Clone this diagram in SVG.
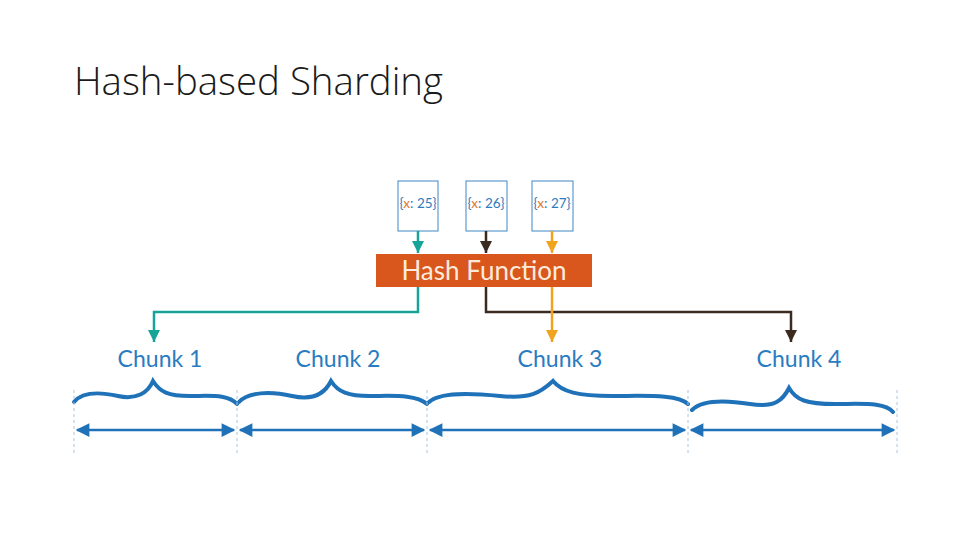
<svg xmlns="http://www.w3.org/2000/svg" width="960" height="540" viewBox="0 0 960 540">
<defs>
<style>
.title{font-family:"Open Sans","Liberation Sans",sans-serif;font-weight:300;font-size:38px;fill:#1a1a1a}
.key{font-family:Lato,"Liberation Sans",sans-serif;font-size:13.5px;fill:#2E7CC0}
.x{fill:#E0752B}
.kbox{fill:#fff;stroke:#3C86C6;stroke-width:1}
.chunk{font-family:Lato,"Liberation Sans",sans-serif;font-size:23px;fill:#2A7CC0;text-anchor:middle}
.hf{font-family:Lato,"Liberation Sans",sans-serif;font-size:26px;fill:#FCEBDD;text-anchor:middle}
.brace{fill:none;stroke:#1F72B8;stroke-width:4;stroke-linecap:round}
.dim{stroke:#1F72B8;stroke-width:2.5;fill:none}
.dash{stroke:#A9C6DF;stroke-width:1;stroke-dasharray:3 3}
.conn{fill:none;stroke-width:2.5}
</style>
<marker id="aTeal" viewBox="0 0 10 10" refX="10" refY="5" markerWidth="5" markerHeight="5.5" markerUnits="strokeWidth" orient="auto"><path d="M0,0L10,5L0,10z" fill="#17A397"/></marker>
<marker id="aBrown" viewBox="0 0 10 10" refX="10" refY="5" markerWidth="5" markerHeight="5.5" markerUnits="strokeWidth" orient="auto"><path d="M0,0L10,5L0,10z" fill="#3B2A1F"/></marker>
<marker id="aOrange" viewBox="0 0 10 10" refX="10" refY="5" markerWidth="5" markerHeight="5.5" markerUnits="strokeWidth" orient="auto"><path d="M0,0L10,5L0,10z" fill="#F0A31C"/></marker>
<marker id="aBlue" viewBox="0 0 10 10" refX="9" refY="5" markerWidth="7" markerHeight="5.5" markerUnits="strokeWidth" orient="auto-start-reverse"><path d="M0,0L10,5L0,10z" fill="#1F72B8"/></marker>
</defs>
<rect width="960" height="540" fill="#fff"/>
<text class="title" x="74" y="95" textLength="369" lengthAdjust="spacingAndGlyphs">Hash-based Sharding</text>

<g id="key25"><rect class="kbox" x="398" y="181" width="40" height="50"/><text class="key" x="418" y="208" text-anchor="middle">{<tspan class="x">x</tspan>: 25}</text></g>
<g id="key26"><rect class="kbox" x="466" y="181" width="41" height="50"/><text class="key" x="486" y="208" text-anchor="middle">{<tspan class="x">x</tspan>: 26}</text></g>
<g id="key27"><rect class="kbox" x="532" y="181" width="41" height="50"/><text class="key" x="552" y="208" text-anchor="middle">{<tspan class="x">x</tspan>: 27}</text></g>

<g id="hash"><rect x="376" y="254" width="216" height="33" fill="#D9561C"/><text class="hf" x="484" y="280">Hash Function</text></g>

<g id="connectors">
<path class="conn" d="M418,231V253" stroke="#17A397" marker-end="url(#aTeal)"/>
<path class="conn" d="M486,231V253" stroke="#3B2A1F" marker-end="url(#aBrown)"/>
<path class="conn" d="M552,231V253" stroke="#F0A31C" marker-end="url(#aOrange)"/>
<path class="conn" d="M418,287V312H154V342" stroke="#17A397" marker-end="url(#aTeal)"/>
<path class="conn" d="M486,287V312H791V342" stroke="#3B2A1F" marker-end="url(#aBrown)"/>
<path class="conn" d="M552,287V342" stroke="#F0A31C" marker-end="url(#aOrange)"/>
</g>

<g id="chunk1"><text class="chunk" x="160" y="367">Chunk 1</text>
<path class="brace" d="M74,402 C82,392 100,392 118,396 S148,393 153,381 C160,392 168,396 190,396 S228,394 237,404"/>
<path class="dim" d="M77,430H234" marker-start="url(#aBlue)" marker-end="url(#aBlue)"/></g>
<g id="chunk2"><text class="chunk" x="338" y="367">Chunk 2</text>
<path class="brace" d="M239,402 C248,392 270,391 292,396 S325,393 331,381 C338,392 348,396 370,396 S416,394 427,404"/>
<path class="dim" d="M240,430H424" marker-start="url(#aBlue)" marker-end="url(#aBlue)"/></g>
<g id="chunk3"><text class="chunk" x="560" y="367">Chunk 3</text>
<path class="brace" d="M429,402 C440,392 470,393 500,396 S540,393 553,381 C562,392 578,396 612,396 S678,394 688,404"/>
<path class="dim" d="M430,430H685" marker-start="url(#aBlue)" marker-end="url(#aBlue)"/></g>
<g id="chunk4"><text class="chunk" x="799" y="367">Chunk 4</text>
<path class="brace" d="M692,410 C702,400 725,400 750,404 S783,400 789,388 C796,400 806,404 835,404 S885,402 893,412"/>
<path class="dim" d="M691,430H894" marker-start="url(#aBlue)" marker-end="url(#aBlue)"/></g>

<g id="guides">
<path class="dash" d="M74,390V456M237,390V456M427,390V456M688,390V456M897,390V456"/>
</g>
</svg>
